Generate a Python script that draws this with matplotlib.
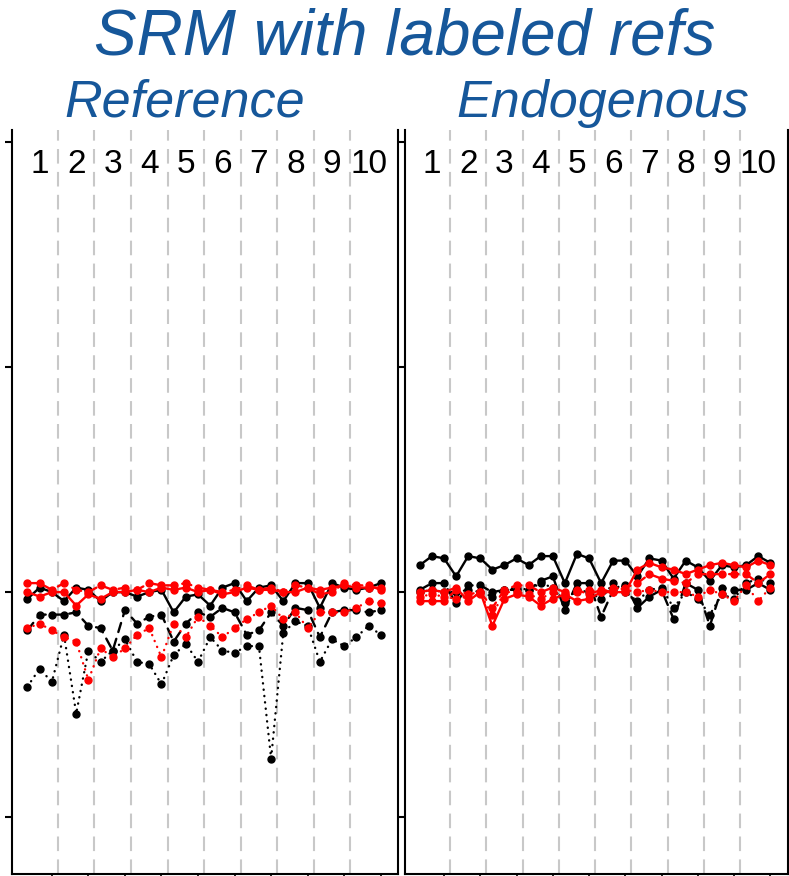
import matplotlib
matplotlib.use("Agg")
import matplotlib.pyplot as plt
from matplotlib import font_manager

# positions 1..30: ten groups of three points each
grupos = [str(i) for i in range(1, 11)]

# Reference panel
ref_preto_solido = [-0.03, 0.02, 0.00, -0.04, 0.02, 0.01, -0.04, 0.00, 0.00, -0.02,
                    0.00, 0.01, -0.09, -0.02, -0.01, -0.06, 0.02, 0.04, -0.04, 0.02,
                    0.03, -0.04, 0.04, 0.04, -0.07, 0.04, 0.02, 0.01, 0.02, 0.04]
ref_preto_tracejado = [-0.17, -0.10, -0.10, -0.10, -0.09, -0.15, -0.16, -0.26, -0.08, -0.14,
                       -0.11, -0.10, -0.22, -0.14, -0.09, -0.11, -0.07, -0.09, -0.19, -0.17,
                       -0.09, -0.15, -0.07, -0.08, -0.20, -0.09, -0.08, -0.08, -0.09, -0.08]
ref_preto_pontilhado = [-0.42, -0.34, -0.40, -0.19, -0.54, -0.26, -0.31, -0.26, -0.21, -0.31,
                        -0.32, -0.41, -0.28, -0.23, -0.31, -0.20, -0.26, -0.27, -0.24, -0.24,
                        -0.74, -0.18, -0.13, -0.15, -0.31, -0.21, -0.24, -0.20, -0.15, -0.19]
ref_vermelho_solido = [0.00, -0.02, 0.00, 0.00, -0.06, -0.01, -0.03, 0.00, 0.00, 0.01,
                       0.00, 0.02, 0.01, 0.02, 0.00, 0.01, -0.01, 0.00, 0.02, 0.01,
                       0.01, 0.00, 0.00, 0.02, 0.01, 0.02, 0.03, 0.02, 0.02, 0.02]
ref_vermelho_tracejado = [0.04, 0.04, 0.01, 0.04, 0.01, 0.00, 0.03, 0.01, 0.02, 0.01,
                          0.04, 0.03, 0.03, 0.04, 0.02, 0.01, 0.00, 0.01, 0.03, 0.01,
                          0.02, 0.00, 0.03, 0.02, -0.01, 0.00, 0.04, 0.03, 0.03, 0.01]
ref_vermelho_pontilhado = [-0.16, -0.14, -0.17, -0.20, -0.22, -0.39, -0.25, -0.29, -0.25, -0.19,
                           -0.16, -0.29, -0.14, -0.20, -0.11, -0.15, -0.20, -0.16, -0.12, -0.09,
                           -0.06, -0.12, -0.09, -0.16, -0.09, -0.09, -0.09, -0.07, -0.04, -0.05]

# Endogenous panel
end_preto_solido = [0.12, 0.16, 0.15, 0.07, 0.16, 0.15, 0.10, 0.12, 0.15, 0.12,
                    0.16, 0.16, 0.04, 0.17, 0.15, 0.04, 0.14, 0.14, 0.07, 0.15,
                    0.14, 0.06, 0.14, 0.11, 0.05, 0.12, 0.11, 0.12, 0.16, 0.13]
end_preto_tracejado = [0.01, 0.04, 0.04, -0.05, 0.03, 0.03, 0.00, 0.01, 0.01, 0.01,
                       0.05, 0.07, -0.08, 0.04, 0.04, -0.11, 0.01, 0.03, -0.07, -0.02,
                       0.01, -0.12, 0.04, 0.01, -0.15, 0.02, 0.01, 0.01, 0.04, 0.01]
end_preto_pontilhado = [0.00, 0.01, 0.00, 0.00, 0.01, 0.00, -0.02, 0.01, 0.02, 0.01,
                        0.04, 0.02, -0.05, 0.01, 0.00, -0.03, 0.04, 0.00, -0.04, 0.01,
                        0.02, -0.07, 0.00, -0.03, -0.10, -0.01, -0.03, 0.04, 0.06, 0.04]
end_vermelho_solido = [0.00, 0.01, 0.00, 0.02, -0.04, 0.00, -0.15, -0.03, -0.01, -0.02,
                       -0.06, -0.03, -0.01, -0.04, -0.03, 0.00, 0.00, 0.00, 0.10, 0.13,
                       0.11, 0.10, 0.08, 0.10, 0.12, 0.13, 0.12, 0.11, 0.14, 0.12]
end_vermelho_tracejado = [-0.04, -0.04, -0.04, 0.01, -0.01, 0.00, -0.07, 0.01, 0.03, 0.03,
                          0.00, 0.02, 0.00, 0.01, -0.01, 0.01, 0.00, 0.02, 0.04, 0.08,
                          0.06, 0.05, 0.04, 0.08, 0.08, 0.08, 0.08, 0.08, 0.04, 0.08]
end_vermelho_pontilhado = [-0.02, -0.01, -0.02, -0.03, -0.02, -0.01, -0.10, 0.00, 0.00, -0.01,
                           -0.03, 0.00, -0.02, 0.00, 0.01, 0.00, 0.02, 0.01, 0.00, 0.01,
                           0.00, 0.00, 0.00, -0.02, 0.01, -0.01, -0.04, 0.03, -0.04, 0.02]

AZUL = '#16579a'
fonte_num = 'Liberation Sans Narrow'
nomes = {f.name for f in font_manager.fontManager.ttflist}
if fonte_num not in nomes:
    fonte_num = 'Liberation Sans'

estilos = [
    ('black', '-'),
    ('black', (0, (4, 3))),
    ('black', (0, (0.1, 2.6))),
    ('red', '-'),
    ('red', (0, (4, 3))),
    ('red', (0, (0.1, 2.6))),
]

fig = plt.figure(figsize=(7.89, 8.76), dpi=100)

# [posicao do eixo], titulo, centro x do titulo, series
paineis = [
    ([0.0155, 0.0023, 0.4895, 0.849], 'Reference', 0.2345,
     [ref_preto_solido, ref_preto_tracejado, ref_preto_pontilhado,
      ref_vermelho_solido, ref_vermelho_tracejado, ref_vermelho_pontilhado]),
    ([0.513, 0.0023, 0.4855, 0.849], 'Endogenous', 0.764,
     [end_preto_solido, end_preto_tracejado, end_preto_pontilhado,
      end_vermelho_solido, end_vermelho_tracejado, end_vermelho_pontilhado]),
]

x = list(range(1, 31))
for pos, nome, cx, series in paineis:
    ax = fig.add_axes(pos)
    ax.set_xlim(-0.25, 31.45)
    ax.set_ylim(-1.253, 2.053)

    # separadores entre os grupos
    for b in range(1, 10):
        ax.axvline(3 * b + 0.5, color='#c8c8c8', lw=1.5, ls=(0, (7, 4)), zorder=1)

    for (cor, ls), y in zip(estilos, series):
        ax.plot(x, y, color=cor, ls=ls, lw=1.7, marker='o', markersize=5,
                dash_capstyle='round', solid_capstyle='round', zorder=3)

    for i, g in enumerate(grupos):
        ax.text(2 + 3 * i, 1.90, g, ha='center', va='center', fontsize=24,
                family=fonte_num, color='black')

    ax.spines['top'].set_visible(False)
    for s in ('left', 'right', 'bottom'):
        ax.spines[s].set_linewidth(1.5)
    ax.set_yticks([-1, 0, 1, 2])
    ax.set_yticklabels([])
    ax.set_xticks([3 * k for k in range(1, 11)])
    ax.set_xticklabels([])
    ax.tick_params(axis='y', direction='out', length=5, width=1.5)
    ax.tick_params(axis='x', direction='out', length=1.5, width=1.2)

    fig.text(cx, 0.882, nome, ha='center', va='center', fontsize=37.5,
             style='italic', family='Liberation Sans', color=AZUL)

fig.text(0.513, 0.957, 'SRM with labeled refs', ha='center', va='center',
         fontsize=46, style='italic', family='Liberation Sans', color=AZUL)

fig.savefig('out.png', dpi=100)
